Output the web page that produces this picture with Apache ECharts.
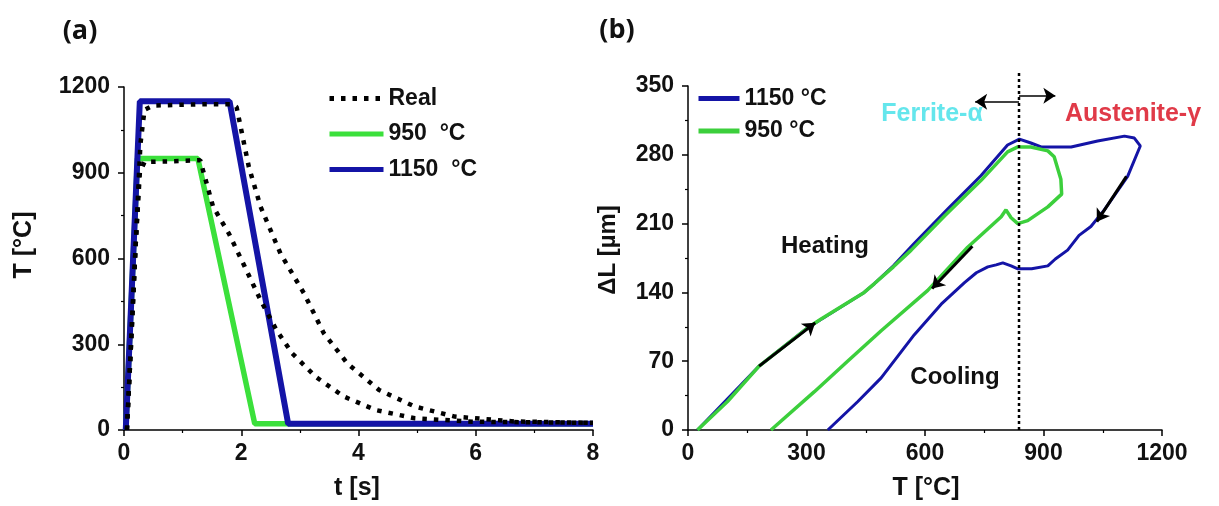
<!DOCTYPE html>
<html>
<head>
<meta charset="utf-8">
<script src="https://cdn.jsdelivr.net/npm/echarts@6/dist/echarts.min.js"></script>
<style>
html, body { margin: 0; padding: 0; background: #fff; }
#chart { width: 1219px; height: 506px; }
</style>
</head>
<body>
<div id="chart"></div>
<script>
// (a) thermal cycles: [t s, T °C]
var real1150 = [[0.05,0],[0.12,300],[0.2,650],[0.28,1000],[0.35,1120],[0.5,1135],[1.0,1138],[1.5,1140],[1.85,1140],[1.92,1130],[2.13,920],[2.33,781],[2.67,617],[3.07,478],[3.41,338],[3.81,233],[4.35,140],[4.96,82],[5.64,47],[6.65,30],[8,25]];
var real950 = [[0.05,0],[0.12,300],[0.2,650],[0.27,900],[0.35,938],[0.8,940],[1.3,944],[1.52,781],[1.79,687],[2.06,571],[2.33,454],[2.6,350],[2.87,268],[3.27,186],[3.75,117],[4.29,70],[4.96,41],[5.97,29],[8,25]];
var set950 = [[0.03,0],[0.23,950],[1.26,950],[2.23,22],[8,22]];
var set1150 = [[0.03,0],[0.27,1150],[1.8,1150],[2.8,22],[8,22]];

// (b) dilatometry: [T °C, dL um]
var dil1150 = [[24,0],[180,65],[303,104],[446,140],[472,149],[520,167],[573,190],[658,225],[742,259],[809,290],[839,296],[868,292],[894,288],[970,288],[1037,294],[1105,299],[1130,297],[1145,289],[1113,258],[1054,224],[1020,207],[990,198],[961,183],[930,174],[911,167],[870,164],[835,164],[818,167],[797,170],[780,168],[759,166],[730,160],[700,150],[641,128],[573,97],[489,53],[430,29],[354,0]];
var dil950 = [[24,0],[100,29],[180,65],[303,104],[337,113],[446,140],[472,149],[520,166],[565,183],[650,218],[742,254],[809,283],[835,288],[868,288],[911,284],[927,278],[944,255],[946,240],[911,227],[860,213],[835,210],[818,216],[805,224],[793,217],[708,186],[607,142],[489,101],[404,70],[320,39],[210,0]];

var transT = 838;
var transLine = [[transT,0],[transT,364]];
var arrowHeat = [[180,65],[322,109]];
var arrowCool950 = [[720,187],[618,144]];
var arrowCool1150 = [[1110,258],[1035,212]];
var arrowFerrite = [[transT,334],[727,334]];
var arrowAustenite = [[transT,340],[930,340]];

var ticksA_x = [0, 8, 2];
var ticksA_y = [0, 1200, 300];
var ticksB_x = [0, 1200, 300];
var ticksB_y = [0, 350, 70];

var labelFont = { fontFamily: 'Liberation Sans', fontWeight: 'bold', fontSize: 23, color: '#111' };
var blue = '#1414a6';
var green = '#3be03b';
var greenB = '#3ccf3c';

function axisStyle(t, idx, isY) {
  return {
    type: 'value', gridIndex: idx,
    min: t[0], max: t[1], interval: t[2],
    splitLine: { show: false },
    axisLine: { show: true, onZero: false, lineStyle: { color: '#000', width: 1.5 } },
    axisTick: { show: true, length: 6, lineStyle: { color: '#000', width: 1.5 } },
    minorTick: { show: true, splitNumber: 2, length: 3, lineStyle: { color: '#000', width: 1.2 } },
    axisLabel: Object.assign({ margin: isY ? 14 : 12, formatter: function (v) { return String(v); } }, labelFont)
  };
}

function arrow(pts, w, size) {
  return [{ coord: pts[0], lineStyle: { width: w }, symbolSize: size }, { coord: pts[1] }];
}

var dom = document.getElementById('chart');
var myChart = echarts.init(dom);
var option;

option = {
  animation: false,
  backgroundColor: '#fff',
  grid: [
    { left: 124, top: 87, width: 469, height: 343 },
    { left: 688, top: 86, width: 474, height: 344 }
  ],
  xAxis: [axisStyle(ticksA_x, 0, false), axisStyle(ticksB_x, 1, false)],
  yAxis: [axisStyle(ticksA_y, 0, true), axisStyle(ticksB_y, 1, true)],
  legend: [
    {
      left: 327, top: 87, padding: 0, orient: 'vertical',
      itemWidth: 54, itemHeight: 24, itemGap: 12.5,
      textStyle: labelFont,
      itemStyle: { opacity: 0 },
      lineStyle: { width: 5 },
      data: ['Real', '950  °C', '1150  °C']
    },
    {
      left: 696, top: 87, padding: 0, orient: 'vertical',
      itemWidth: 41, itemHeight: 24, itemGap: 9.5,
      textStyle: labelFont,
      itemStyle: { opacity: 0 },
      data: [
        { name: '1150 °C', lineStyle: { width: 5, color: blue } },
        { name: '950 °C', lineStyle: { width: 5, color: greenB } }
      ]
    }
  ],
  graphic: [
    { type: 'text', x: 80, y: 31, style: { text: '(a)', font: 'bold 27px "Open Sans"', fill: '#111', align: 'center', verticalAlign: 'middle' } },
    { type: 'text', x: 617, y: 30, style: { text: '(b)', font: 'bold 27px "Open Sans"', fill: '#111', align: 'center', verticalAlign: 'middle' } },
    { type: 'text', x: 24, y: 245, rotation: Math.PI / 2, style: { text: 'T [°C]', font: 'bold 25px "Liberation Sans"', fill: '#111', align: 'center', verticalAlign: 'middle' } },
    { type: 'text', x: 357, y: 488, style: { text: 't [s]', font: 'bold 25px "Liberation Sans"', fill: '#111', align: 'center', verticalAlign: 'middle' } },
    { type: 'text', x: 608, y: 250, rotation: Math.PI / 2, style: { text: 'ΔL [µm]', font: 'bold 24px "Liberation Sans"', fill: '#111', align: 'center', verticalAlign: 'middle' } },
    { type: 'text', x: 926, y: 488, style: { text: 'T [°C]', font: 'bold 25px "Liberation Sans"', fill: '#111', align: 'center', verticalAlign: 'middle' } },
    { type: 'text', x: 932, y: 114, style: { text: 'Ferrite-α', font: 'bold 25px "Liberation Sans"', fill: '#64e6ec', align: 'center', verticalAlign: 'middle' } },
    { type: 'text', x: 1133, y: 114, style: { text: 'Austenite-γ', font: 'bold 25px "Liberation Sans"', fill: '#e03a48', align: 'center', verticalAlign: 'middle' } },
    { type: 'text', x: 825, y: 246, style: { text: 'Heating', font: 'bold 24px "Liberation Sans"', fill: '#111', align: 'center', verticalAlign: 'middle' } },
    { type: 'text', x: 955, y: 377, style: { text: 'Cooling', font: 'bold 24px "Liberation Sans"', fill: '#111', align: 'center', verticalAlign: 'middle' } }
  ],
  series: [
    {
      name: '950  °C', type: 'line', xAxisIndex: 0, yAxisIndex: 0,
      data: set950, symbol: 'none',
      lineStyle: { color: green, width: 5.5 }, itemStyle: { color: green }
    },
    {
      name: '1150  °C', type: 'line', xAxisIndex: 0, yAxisIndex: 0,
      data: set1150, symbol: 'none',
      lineStyle: { color: blue, width: 6 }, itemStyle: { color: blue }
    },
    {
      name: 'Real', type: 'line', xAxisIndex: 0, yAxisIndex: 0,
      data: real1150, symbol: 'none',
      lineStyle: { color: '#000', width: 4.5, type: [4.5, 7] }, itemStyle: { color: '#000' }
    },
    {
      name: 'Real', type: 'line', xAxisIndex: 0, yAxisIndex: 0,
      data: real950, symbol: 'none',
      lineStyle: { color: '#000', width: 4.5, type: [4.5, 7] }, itemStyle: { color: '#000' }
    },
    {
      name: '1150 °C', type: 'line', xAxisIndex: 1, yAxisIndex: 1,
      data: dil1150, symbol: 'none',
      lineStyle: { color: blue, width: 3 }, itemStyle: { color: blue }
    },
    {
      name: '950 °C', type: 'line', xAxisIndex: 1, yAxisIndex: 1,
      data: dil950, symbol: 'none',
      lineStyle: { color: greenB, width: 3.5 }, itemStyle: { color: greenB }
    },
    {
      name: 'transition', type: 'line', xAxisIndex: 1, yAxisIndex: 1,
      data: transLine, symbol: 'none', clip: false, silent: true,
      lineStyle: { color: '#000', width: 2.5, type: [3, 3] },
      markLine: {
        silent: true, symbol: ['none', 'arrow'], symbolSize: 12,
        label: { show: false },
        lineStyle: { color: '#000', type: 'solid', width: 3 },
        data: [
          arrow(arrowHeat, 3, 13),
          arrow(arrowCool950, 3, 13),
          arrow(arrowCool1150, 3, 13),
          arrow(arrowFerrite, 1.5, 8),
          arrow(arrowAustenite, 1.5, 8)
        ]
      }
    }
  ]
};

if (option && typeof option === 'object') {
  myChart.setOption(option);
}
</script>
</body>
</html>
